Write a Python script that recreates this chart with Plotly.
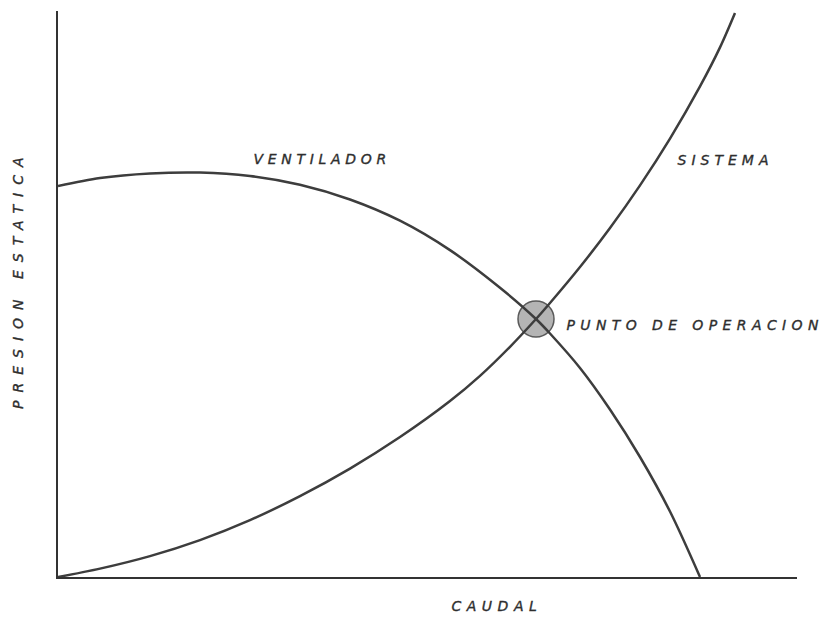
import plotly.graph_objects as go

# Fan curve (VENTILADOR) - caudal vs presion estatica (relative units 0-100)
fan_x = [0, 5.683, 12.449, 19.215, 25.981, 32.747, 39.513, 46.279, 53.045, 59.811,
         64.682, 66.576, 70.636, 74.696, 78.755, 82.815, 86.874]
fan_y = [69.08, 70.49, 71.29, 71.45, 70.85, 69.30, 66.70, 62.95, 57.75, 51.10,
         45.58, 43.02, 36.93, 29.59, 21.20, 11.57, 0.0]

# System curve (SISTEMA)
sys_x = [0, 5.683, 12.449, 19.215, 25.981, 32.747, 39.513, 46.279, 53.045, 57.104,
         61.164, 64.682, 66.576, 70.636, 74.696, 78.755, 82.815, 86.874, 89.581, 91.610]
sys_y = [0, 1.48, 3.69, 6.52, 10.05, 14.29, 19.15, 24.72, 31.08, 35.53,
         40.67, 45.58, 48.41, 54.77, 61.66, 69.19, 77.46, 86.68, 93.57, 99.65]

# Operating point
op_x = [64.682]
op_y = [45.58]

labels = {
    "fan": "VENTILADOR",
    "sys": "SISTEMA",
    "op": "PUNTO DE OPERACION",
    "x": "CAUDAL",
    "y": "PRESION ESTATICA",
}

line_col = "#3d3d3d"
text_col = "#2e2e2e"

fig = go.Figure()
fig.add_trace(go.Scatter(
    x=op_x, y=op_y, mode="markers",
    marker=dict(size=36, color="rgba(140,140,140,0.65)",
                line=dict(color="#5a5a5a", width=1.5)),
    hoverinfo="skip", showlegend=False))
fig.add_trace(go.Scatter(
    x=fan_x, y=fan_y, mode="lines",
    line=dict(color=line_col, width=2.5, shape="spline", smoothing=0.9),
    name=labels["fan"], showlegend=False))
fig.add_trace(go.Scatter(
    x=sys_x, y=sys_y, mode="lines",
    line=dict(color=line_col, width=2.5, shape="spline", smoothing=0.9),
    name=labels["sys"], showlegend=False))

font = dict(family="DejaVu Sans", size=14, color=text_col, style="italic")

# annotation positions (paper units)
ann = [
    (labels["fan"], 0.3572, 0.7385, 0),
    (labels["sys"], 0.9039, 0.7367, 0),
    (labels["op"], 0.8620, 0.4452, 0),
    (labels["x"], 0.5940, -0.0512, 0),
    (labels["y"], -0.0541, 0.5265, -90),
]
for t, ax, ay, ang in ann:
    fig.add_annotation(x=ax, y=ay, xref="paper", yref="paper", text=t,
                       showarrow=False, textangle=ang, font=font,
                       xanchor="center", yanchor="middle")

fig.update_xaxes(range=[0, 100], showline=True, linecolor="#333", linewidth=1.5,
                 showgrid=False, zeroline=False, showticklabels=False, ticks="")
fig.update_yaxes(range=[0, 100], showline=True, linecolor="#333", linewidth=1.5,
                 showgrid=False, zeroline=False, showticklabels=False, ticks="")
fig.update_layout(
    width=827, height=618,
    margin=dict(l=58, r=30, t=11, b=41),
    paper_bgcolor="white", plot_bgcolor="white",
    showlegend=False,
)

post = """
document.body.style.margin='0';
var sp = ['4.7px','5px','5.4px','5.5px','8px'];
document.querySelectorAll('.annotation-text').forEach(function(t, i){
  t.style.letterSpacing = sp[i] || '4px';
  t.style.stroke = '#2e2e2e';
  t.style.strokeWidth = '0.35px';
});
"""
fig.write_html("out.html", post_script=post, config={"displayModeBar": False})
